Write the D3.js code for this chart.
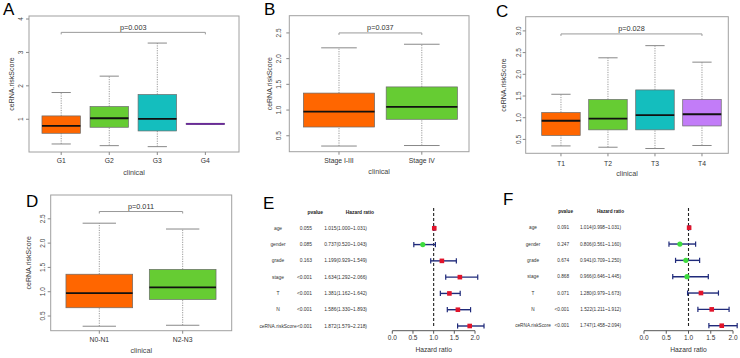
<!DOCTYPE html>
<html><head><meta charset="utf-8">
<script src="https://cdn.jsdelivr.net/npm/d3@7"></script>
<style>body{margin:0;background:#fff} svg{display:block;font-family:"Liberation Sans",Arial,sans-serif}</style>
</head><body><svg width="740" height="358"></svg>
<script>
// ---------- data ----------
const catA = ["G1","G2","G3","G4"];
const boxA = [[0.26,0.58,0.80,1.10,1.80],[0.21,0.76,1.03,1.38,2.29],[0.18,0.65,1.01,1.74,3.28],[0.85,0.84,0.86,0.88,0.87]];
const ticksA = [1,2,3,4];
const pA = "p=0.003", bracketA = 3.6;

const catB = ["Stage I-III","Stage IV"];
const boxB = [[0.30,0.67,0.97,1.33,2.21],[0.31,0.82,1.06,1.45,2.28]];
const ticksB = [0.5,1.0,1.5,2.0,2.5];
const pB = "p=0.037", bracketB = 2.50;

const catC = ["T1","T2","T3","T4"];
const boxC = [[0.35,0.59,0.93,1.12,1.54],[0.32,0.72,0.98,1.42,2.38],[0.29,0.72,1.06,1.64,2.66],[0.36,0.81,1.08,1.42,2.28]];
const ticksC = [0.5,1.0,1.5,2.0,2.5,3.0];
const pC = "p=0.028", bracketC = 2.93;

const catD = ["N0-N1","N2-N3"];
const boxD = [[0.29,0.67,0.97,1.36,2.41],[0.31,0.84,1.09,1.46,2.29]];
const ticksD = [0.5,1.0,1.5,2.0,2.5];
const pD = "p=0.011", bracketD = 2.65;

const boxColors = ["#FF6600","#66CC33","#14BEBE","#C27CF8"];

const forestVars = ["age","gender","grade","stage","T","N","ceRNA.riskScore"];
const pvalE = ["0.055","0.085","0.163","<0.001","<0.001","<0.001","<0.001"];
const hrE   = [1.015,0.737,1.199,1.634,1.381,1.586,1.872];
const lowE  = [1.000,0.520,0.929,1.292,1.162,1.330,1.579];
const highE = [1.031,1.043,1.549,2.066,1.642,1.893,2.218];

const pvalF = ["0.091","0.247","0.674","0.868","0.071","<0.001","<0.001"];
const hrF   = [1.014,0.806,0.941,0.966,1.280,1.522,1.747];
const lowF  = [0.998,0.561,0.709,0.646,0.979,1.211,1.458];
const highF = [1.031,1.160,1.250,1.445,1.673,1.912,2.094];
const hrTicks = [0,0.5,1,1.5,2];

// ---------- drawing ----------
const svg = d3.select("svg");

function letter(t,x,y){
  svg.append("text").attr("x",x).attr("y",y).attr("font-size",17).attr("fill","#000").text(t);
}

function boxPanel(o){
  const g = svg.append("g");
  const x = d3.scaleLinear().domain(o.xd).range([o.x0,o.x1]);
  const y = d3.scaleLinear().domain(o.yd).range([o.y1,o.y0]);
  g.append("rect").attr("x",o.x0).attr("y",o.y0).attr("width",o.x1-o.x0).attr("height",o.y1-o.y0)
    .attr("fill","none").attr("stroke","#a0a0a0").attr("stroke-width",1);
  const ya = g.append("g");
  o.ticks.forEach(t=>{
    ya.append("line").attr("x1",o.x0-3).attr("x2",o.x0).attr("y1",y(t)).attr("y2",y(t)).attr("stroke","#888");
    ya.append("text").attr("transform",`translate(${o.x0-o.tl},${y(t)}) rotate(-90)`)
      .attr("text-anchor","middle").attr("dominant-baseline","central").attr("font-size",6.5).attr("fill","#444")
      .text(o.fmt(t));
  });
  o.cats.forEach((c,i)=>{
    g.append("line").attr("x1",x(i+1)).attr("x2",x(i+1)).attr("y1",o.y1).attr("y2",o.y1+3).attr("stroke","#888");
    g.append("text").attr("x",x(i+1)).attr("y",o.y1+o.xl).attr("text-anchor","middle").attr("dominant-baseline","central")
      .attr("font-size",6.8).attr("fill","#333").text(c);
  });
  g.append("text").attr("x",(o.x0+o.x1)/2).attr("y",o.y1+20).attr("text-anchor","middle").attr("dominant-baseline","central")
    .attr("font-size",7.2).attr("fill","#444").text("clinical");
  g.append("text").attr("transform",`translate(${o.x0-o.tt},${(o.y0+o.y1)/2}) rotate(-90)`)
    .attr("text-anchor","middle").attr("dominant-baseline","central").attr("font-size",7).attr("fill","#333").text("ceRNA.riskScore");
  const hw = o.bw/2;
  o.stats.forEach((s,i)=>{
    const cx = i+1, col = boxColors[i];
    const b = g.append("g");
    b.append("line").attr("x1",x(cx)).attr("x2",x(cx)).attr("y1",y(s[0])).attr("y2",y(s[1]))
      .attr("stroke","#999").attr("stroke-dasharray","1.2,1.2");
    b.append("line").attr("x1",x(cx)).attr("x2",x(cx)).attr("y1",y(s[3])).attr("y2",y(s[4]))
      .attr("stroke","#999").attr("stroke-dasharray","1.2,1.2");
    [s[0],s[4]].forEach(v=>b.append("line").attr("x1",x(cx-hw/2)).attr("x2",x(cx+hw/2)).attr("y1",y(v)).attr("y2",y(v))
      .attr("stroke","#888").attr("stroke-width",1));
    b.append("rect").attr("x",x(cx-hw)).attr("width",x(cx+hw)-x(cx-hw)).attr("y",y(s[3])).attr("height",Math.max(1,y(s[1])-y(s[3])))
      .attr("fill",col).attr("stroke","#6a6a6a").attr("stroke-width",0.7);
    b.append("line").attr("x1",x(cx-hw)).attr("x2",x(cx+hw)).attr("y1",y(s[2])).attr("y2",y(s[2]))
      .attr("stroke", i===3 && o.purpleMed ? "#6a2a9a" : "#111").attr("stroke-width",1.8);
  });
  const by = y(o.bv), bx0 = x(1), bx1 = x(o.cats.length);
  g.append("path").attr("d",`M${bx0},${by+2}V${by}H${bx1}V${by+2}`).attr("fill","none").attr("stroke","#999").attr("stroke-width",1);
  g.append("text").attr("x",(bx0+bx1)/2).attr("y",by-5).attr("text-anchor","middle").attr("dominant-baseline","central")
    .attr("font-size",7.3).attr("fill","#333").text(o.p);
}

const f1 = d3.format(".0f"), f2 = d3.format(".1f");
boxPanel({x0:29,x1:239,y0:16,y1:152,xd:[0.33,4.7],yd:[0.02,4.09],cats:catA,stats:boxA,ticks:ticksA,fmt:f1,bw:0.8,
  bv:bracketA,p:pA,tl:9,tt:18,xl:8.7,purpleMed:true});
boxPanel({x0:289.3,x1:469,y0:15.7,y1:151.7,xd:[0.4,2.57],yd:[0.19,2.835],cats:catB,stats:boxB,ticks:ticksB,fmt:f2,bw:0.86,
  bv:bracketB,p:pB,tl:11,tt:20.3,xl:9});
boxPanel({x0:525.7,x1:728.3,y0:16.7,y1:153.3,xd:[0.25,4.56],yd:[0.18,3.327],cats:catC,stats:boxC,ticks:ticksC,fmt:f2,bw:0.82,
  bv:bracketC,p:pC,tl:7,tt:22.4,xl:10});
boxPanel({x0:50.7,x1:231.7,y0:195,y1:330.7,xd:[0.417,2.588],yd:[0.198,2.99],cats:catD,stats:boxD,ticks:ticksD,fmt:f2,bw:0.8,
  bv:bracketD,p:pD,tl:8,tt:22.7,xl:8.6});

function forest(o){
  const g = svg.append("g");
  const x = d3.scaleLinear().domain([0,2]).range([o.xa0,o.xa1]);
  const y = d3.scalePoint().domain(forestVars).range([o.ry0,o.ry1]);
  const fs = o.fs;
  g.append("text").attr("x",o.pHead).attr("y",o.hy).attr("text-anchor","end").attr("dominant-baseline","central")
    .attr("font-size",fs).attr("font-weight","bold").attr("fill","#222").text("pvalue");
  g.append("text").attr("x",o.hrHead).attr("y",o.hy).attr("text-anchor","end").attr("dominant-baseline","central")
    .attr("font-size",fs).attr("font-weight","bold").attr("fill","#222").text("Hazard ratio");
  forestVars.forEach((v,i)=>{
    const yy = y(v);
    g.append("text").attr("x",o.labX).attr("y",yy).attr("text-anchor","middle").attr("dominant-baseline","central")
      .attr("font-size",fs).attr("fill","#333").text(v);
    g.append("text").attr("x",o.pX).attr("y",yy).attr("text-anchor","end").attr("dominant-baseline","central")
      .attr("font-size",fs).attr("fill","#333").text(o.pv[i]);
    g.append("text").attr("x",o.hrX).attr("y",yy).attr("text-anchor","end").attr("dominant-baseline","central")
      .attr("font-size",fs).attr("fill","#333")
      .text(`${o.hr[i].toFixed(3)}(${o.lo[i].toFixed(3)}~${o.hi[i].toFixed(3)})`);
  });
  g.append("line").attr("x1",x(1)).attr("x2",x(1)).attr("y1",o.dy0).attr("y2",o.dy1)
    .attr("stroke","#222").attr("stroke-width",1.1).attr("stroke-dasharray","3,2");
  forestVars.forEach((v,i)=>{
    const yy = y(v);
    const col = "#1f2a7a";
    g.append("line").attr("x1",x(o.lo[i])).attr("x2",x(o.hi[i])).attr("y1",yy).attr("y2",yy).attr("stroke",col).attr("stroke-width",1.4);
    [o.lo[i],o.hi[i]].forEach(e=>g.append("line").attr("x1",x(e)).attr("x2",x(e)).attr("y1",yy-2.6).attr("y2",yy+2.6)
      .attr("stroke",col).attr("stroke-width",1.2));
    if(o.hr[i] > 1){
      g.append("rect").attr("x",x(o.hr[i])-2.3).attr("y",yy-2.3).attr("width",4.6).attr("height",4.6).attr("fill","#e0142b");
    } else {
      g.append("circle").attr("cx",x(o.hr[i])).attr("cy",yy).attr("r",2.6).attr("fill","#3ddc3d");
    }
  });
  g.append("line").attr("x1",x(0)).attr("x2",x(2)).attr("y1",o.ay).attr("y2",o.ay).attr("stroke","#555");
  hrTicks.forEach(t=>{
    g.append("line").attr("x1",x(t)).attr("x2",x(t)).attr("y1",o.ay).attr("y2",o.ay+3).attr("stroke","#555");
    g.append("text").attr("x",x(t)).attr("y",o.ay+6.5).attr("text-anchor","middle").attr("dominant-baseline","central")
      .attr("font-size",6.5).attr("fill","#333").text(t.toFixed(1));
  });
  g.append("text").attr("x",x(1)).attr("y",o.ay+18.8).attr("text-anchor","middle").attr("dominant-baseline","central")
    .attr("font-size",6.7).attr("fill","#333").text("Hazard ratio");
}

forest({xa0:392.3,xa1:475,ry0:228.3,ry1:326,hy:212.7,pHead:323,hrHead:374,labX:278,pX:312,hrX:367,fs:4.9,
  pv:pvalE,hr:hrE,lo:lowE,hi:highE,dy0:208,dy1:327,ay:330.7});
forest({xa0:644,xa1:733,ry0:227.7,ry1:325.7,hy:211,pHead:573,hrHead:624,labX:533,pX:569,hrX:621,fs:4.7,
  pv:pvalF,hr:hrF,lo:lowF,hi:highF,dy0:208,dy1:326.7,ay:330.7});

letter("A",3,15);
letter("B",264,15);
letter("C",496,17.3);
letter("D",26,207);
letter("E",263,209);
letter("F",503,205);
</script></body></html>
